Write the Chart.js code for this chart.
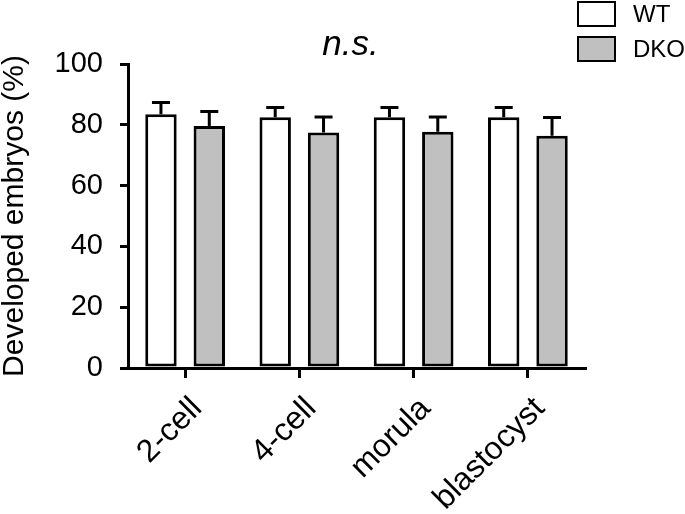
<!DOCTYPE html>
<html>
<head>
<meta charset="utf-8">
<script src="https://cdn.jsdelivr.net/npm/chart.js@4"></script>
<style>
  html, body { margin: 0; padding: 0; background: #fff; }
  #wrap { position: relative; width: 685px; height: 514px; }
  #legend { position: absolute; left: 577px; top: 1px; font-family: 'Liberation Sans', Arial, sans-serif; font-size: 24px; color: #000; }
  #legend .item { display: flex; align-items: center; height: 26px; margin-bottom: 9px; }
  #legend .box { width: 35px; height: 22px; border: 2px solid #000; margin-right: 17px; }
</style>
</head>
<body>
<div id="wrap">
  <canvas id="chart" width="685" height="514"></canvas>
  <div id="legend"></div>
</div>
<script>
const FONT = "'Liberation Sans', Arial, sans-serif";

// Data
const stages = ['2-cell', '4-cell', 'morula', 'blastocyst'];
const wtMean = [83.5, 82.5, 82.5, 82.5];
const wtErr  = [3.8, 3.2, 3.2, 3.2];
const dkoMean = [79.6, 77.5, 77.7, 76.4];
const dkoErr  = [4.8, 5.1, 4.9, 6.0];
const yTicks = [0, 20, 40, 60, 80, 100];

// upward-only error bars with caps
const errorBars = {
  id: 'errorBars',
  afterDatasetsDraw(chart) {
    const { ctx, scales: { y } } = chart;
    ctx.save();
    ctx.strokeStyle = '#000';
    ctx.lineWidth = 3;
    chart.data.datasets.forEach((ds, i) => {
      chart.getDatasetMeta(i).data.forEach((bar, j) => {
        const top = y.getPixelForValue(ds.data[j] + ds.errors[j]);
        ctx.beginPath();
        ctx.moveTo(bar.x, bar.y);
        ctx.lineTo(bar.x, top);
        ctx.moveTo(bar.x - 9, top);
        ctx.lineTo(bar.x + 9, top);
        ctx.stroke();
      });
    });
    ctx.restore();
  }
};

// "n.s." above the plot
const nsLabel = {
  id: 'nsLabel',
  afterDraw(chart) {
    const { ctx, chartArea } = chart;
    ctx.save();
    ctx.font = `italic 35px ${FONT}`;
    ctx.fillStyle = '#000';
    ctx.textAlign = 'center';
    ctx.textBaseline = 'alphabetic';
    ctx.fillText('n.s.', (chartArea.left + chartArea.right) / 2 - 6, chartArea.top - 9);
    ctx.restore();
  }
};

const datasets = [
  { label: 'WT', data: wtMean, errors: wtErr, backgroundColor: '#ffffff' },
  { label: 'DKO', data: dkoMean, errors: dkoErr, backgroundColor: '#c0c0c0' },
].map(d => ({ ...d, borderColor: '#000', borderWidth: 3, borderSkipped: false,
  categoryPercentage: 0.846, barPercentage: 0.65 }));

new Chart(document.getElementById('chart'), {
  type: 'bar',
  data: { labels: stages, datasets },
  options: {
    responsive: false,
    animation: false,
    layout: { padding: { top: 64, right: 100, left: 0, bottom: 0 } },
    plugins: { legend: { display: false }, tooltip: { enabled: false }, title: { display: false } },
    scales: {
      x: {
        afterFit: s => { s.height = 146; },
        border: { display: true, color: '#000', width: 3 },
        grid: { display: true, drawOnChartArea: false, offset: false, color: '#000', lineWidth: 3, tickLength: 10 },
        ticks: { color: '#000', font: { family: FONT, size: 32 }, minRotation: 45, maxRotation: 45,
          padding: 12, labelOffset: 12 },
      },
      y: {
        min: 0, max: 100,
        afterFit: s => { s.width = 128; },
        afterBuildTicks: s => { s.ticks = yTicks.map(v => ({ value: v })); },
        border: { display: true, color: '#000', width: 3 },
        grid: { display: true, drawOnChartArea: false, color: '#000', lineWidth: 3, tickLength: 8 },
        ticks: { color: '#000', font: { family: FONT, size: 29 }, padding: 17 },
        title: { display: true, text: 'Developed embryos (%)', color: '#000',
          font: { family: FONT, size: 30, lineHeight: 1.0 }, padding: 0 },
      },
    },
  },
  plugins: [errorBars, nsLabel],
});

document.getElementById('legend').innerHTML = datasets.map(d =>
  `<div class="item"><span class="box" style="background:${d.backgroundColor}"></span>${d.label}</div>`).join('');
</script>
</body>
</html>
